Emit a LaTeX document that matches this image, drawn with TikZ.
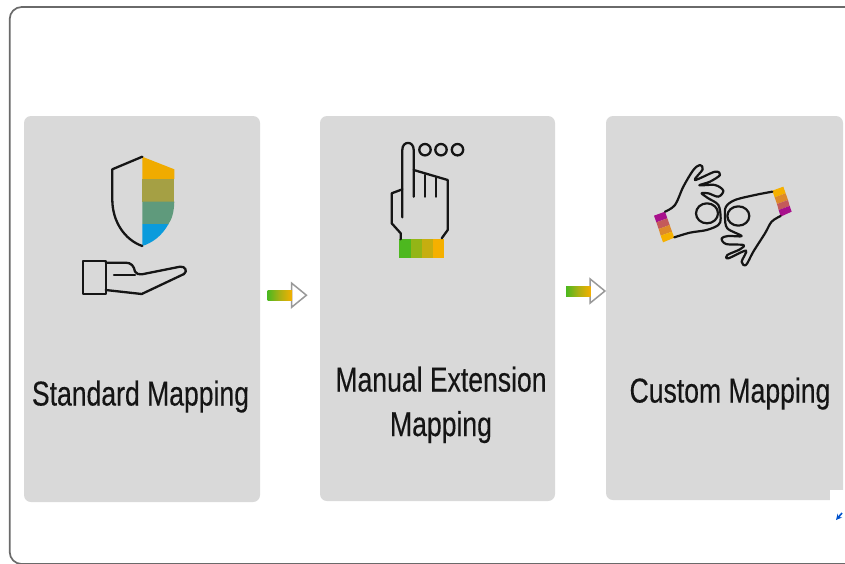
\documentclass[tikz,border=0pt]{standalone}
\usepackage{fontspec}
\setmainfont{Liberation Sans}
\definecolor{cardgray}{HTML}{D9D9D9}
\definecolor{framegray}{HTML}{6A6A6A}
\definecolor{inkc}{HTML}{151515}
\definecolor{gA}{HTML}{F0AB00}
\definecolor{gB}{HTML}{A5A044}
\definecolor{gC}{HTML}{5F9A7C}
\definecolor{gD}{HTML}{0A9BDC}
\definecolor{hA}{HTML}{4DB81F}
\definecolor{hB}{HTML}{93B516}
\definecolor{hC}{HTML}{C6AE10}
\definecolor{hD}{HTML}{F5B000}
\definecolor{pA}{HTML}{A8108C}
\definecolor{pB}{HTML}{C45A5A}
\definecolor{pC}{HTML}{DD8A2A}
\definecolor{pD}{HTML}{F5B000}
\tikzset{
  card/.style={draw=none,fill=cardgray,rounded corners=7pt,inner sep=0pt,minimum width=#1},
  label/.style={text=inkc,font=\fontsize{34.5}{40}\selectfont\addfontfeature{FakeBold=0.35},inner sep=0pt,align=center},
  icon/.style={draw=inkc,line width=2.3pt,line cap=round,line join=round},
  iconthin/.style={draw=inkc,line width=2.2pt,line cap=round,line join=round},
}
\newcommand{\narrowtext}[1]{\scalebox{0.77}[1]{#1}}
\newcommand{\flowarrow}[2]{%
  \begin{scope}[shift={(#1)}]
    \draw[draw=gray!80,fill=white,line width=1.5pt,line join=miter] (24,-12) -- (38.7,0) -- (24,12) -- cycle;
    \shade[left color=hA,right color=hD,middle color=hB!50!hC] (0,-4.5) rectangle (24.5,5.5);
  \end{scope}%
  \coordinate (#2) at (#1);%
}
\begin{document}
\begin{tikzpicture}[x=1pt,y=-1pt]
\useasboundingbox (0,0) rectangle (845,563);
\fill[white] (0,0) rectangle (845,563);
% frame
\begin{scope}
\clip (0,0) rectangle (845,563);
\draw[framegray,line width=1.7pt,rounded corners=12pt] (846,7) -- (9.7,7) -- (9.7,564) -- (846,564);
\end{scope}
% cards
\node[card=236pt,minimum height=386pt] (card1) at (142,309) {};
\node[card=235pt,minimum height=385pt] (card2) at (437.5,308.5) {};
\node[card=237pt,minimum height=384pt] (card3) at (724.5,308) {};
% labels
\node[label,anchor=base] (lab1) at (140.5,405.5) {\narrowtext{Standard Mapping}};
\node[label,anchor=base] (lab2a) at (441,391.5) {\narrowtext{Manual Extension}};
\node[label,anchor=base] (lab2b) at (441,436) {\narrowtext{Mapping}};
\node[label,anchor=base] (lab3) at (730,402.5) {\narrowtext{Custom Mapping}};
% arrows
\flowarrow{267.7,295.2}{arrA}
\flowarrow{566.2,291}{arrB}
% shield
\fill[gA] (142.3,156.7) -- (174.3,169.3) -- (174.3,179) -- (142.3,179) -- cycle;
\fill[gB] (142.3,179) rectangle (174.3,201.7);
\fill[gC] (142.3,201.7) -- (174.3,201.7) .. controls (174,212) and (172,219) .. (168.5,224) -- (142.3,224) -- cycle;
\fill[gD] (142.3,224) -- (168.5,224) .. controls (162,236) and (152,243) .. (142.3,246) -- cycle;
\draw[icon] (142.3,156.7) -- (112.3,169.3) -- (112.3,200) .. controls (112.5,222) and (125,240) .. (142.3,246);
% open hand
\draw[icon] (83.3,260.7) rectangle (105.7,294);
\draw[icon] (105.7,262.7) -- (126,262.7) .. controls (131,262.7) and (134,266) .. (135,271.5)
  .. controls (136,274) and (139,274.7) .. (142,274.3) -- (180,266.7)
  .. controls (185,266) and (188,271) .. (184,274) -- (141.7,294) -- (105.7,290);
\draw[icon] (114,275) -- (135,275);
% pointing hand: wrist band
\fill[hA] (399,239.3) rectangle (410.5,257.7);
\fill[hB] (410.5,239.3) rectangle (422,257.7);
\fill[hC] (422,239.3) rectangle (433,257.7);
\fill[hD] (433,239.3) rectangle (444,257.7);
\draw[icon] (402.3,217.3) -- (402.3,150) .. controls (402.3,140.5) and (413.7,140.5) .. (413.7,150) -- (413.7,196.7);
\draw[icon] (413.7,170) -- (447.7,180) -- (447.7,230) -- (441.7,238.3);
\draw[icon] (425,175) -- (425,196.7);
\draw[icon] (436,177.7) -- (436,196.7);
\draw[icon] (402.3,189.3) -- (391.7,193.3) -- (391.7,223.3) -- (400.7,233.3) -- (400.7,239.3);
\draw[icon] (425,149.7) circle[radius=5.7];
\draw[icon] (441,149.7) circle[radius=5.7];
\draw[icon] (457.5,149.7) circle[radius=5.7];
% signing hands
\begin{scope}[shift={(640,150)},x=0.3333pt,y=-0.3333pt]
  \fill[pA] (42,197) -- (75,185) -- (82,205) -- (49,217) -- cycle;
  \fill[pB] (49,217) -- (82,205) -- (89,225) -- (56,237) -- cycle;
  \fill[pC] (56,237) -- (89,225) -- (96,245) -- (62,257) -- cycle;
  \fill[pD] (62,257) -- (96,245) -- (103,263) -- (69,277) -- cycle;
  \draw[iconthin] plot[smooth,tension=0.55] coordinates {(75,185) (105,165) (130,110) (160,60) (180,45) (188,58) (165,90) (225,65) (240,75) (210,95) (178,106) (225,105) (250,122) (235,140) (205,130) (185,130) (205,145) (235,165) (242,205) (235,225) (200,240) (150,248) (103,262)};
  \draw[iconthin] (201,190) ellipse[x radius=33,y radius=30];
  \fill[pD] (397,122) -- (430,110) -- (437,130) -- (404,142) -- cycle;
  \fill[pC] (404,142) -- (437,130) -- (444,150) -- (411,162) -- cycle;
  \fill[pB] (411,162) -- (444,150) -- (449,168) -- (416,180) -- cycle;
  \fill[pA] (416,180) -- (449,168) -- (455,185) -- (422,200) -- cycle;
  \draw[iconthin] plot[smooth,tension=0.55] coordinates {(397,125) (345,135) (285,150) (258,170) (255,200) (262,235) (305,258) (265,258) (245,265) (258,282) (310,285) (300,298) (262,315) (265,325) (318,302) (305,335) (318,345) (340,305) (375,250) (395,215) (422,198)};
  \draw[iconthin] (295,198) ellipse[x radius=33,y radius=29];
\end{scope}
% small corner widget
\fill[white] (830,490) rectangle (845,530);
\draw[blue!60!cyan!80!black,line width=1.6pt,-stealth] (842,513) -- (836,520);
\end{tikzpicture}
\end{document}
